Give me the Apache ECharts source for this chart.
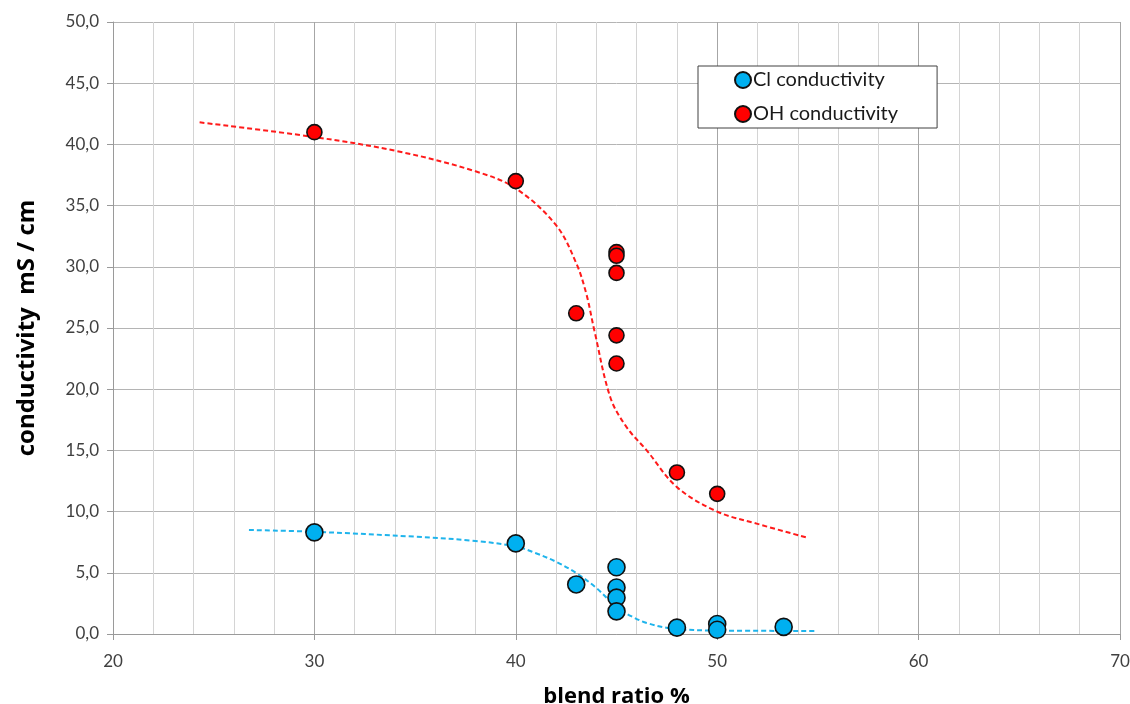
<!DOCTYPE html>
<html>
<head>
<meta charset="utf-8">
<script src="https://cdn.jsdelivr.net/npm/echarts@6/dist/echarts.min.js"></script>
<style>
html,body{margin:0;padding:0;background:#fff;}
#c{width:1130px;height:704px;}
</style>
</head>
<body>
<div id="c"></div>
<script>
// Measured data points
const clX = [30, 40, 43, 45, 45, 45, 45, 48, 50, 50, 53.3];
const clY = [8.3, 7.4, 4.05, 5.45, 3.8, 2.97, 1.85, 0.52, 0.82, 0.35, 0.58];
const ohX = [30, 40, 43, 45, 45, 45, 45, 45, 48, 50];
const ohY = [41.0, 37.0, 26.2, 31.2, 30.9, 29.5, 24.4, 22.1, 13.2, 11.45];

// Trend curves
const clTrendX = [26.75, 30, 35, 38, 40, 41, 42, 43, 44, 45, 45.8, 46.5, 47.7, 50, 54.9];
const clTrendY = [8.5, 8.35, 7.95, 7.6, 7.15, 6.6, 5.9, 4.98, 3.76, 2.2, 1.4, 0.9, 0.46, 0.28, 0.25];
const ohTrendX = [24.3, 30, 34.25, 38, 40, 42.0, 43.0, 43.5, 43.9, 44.7, 45.5, 46.5, 48, 50, 52, 54.4];
const ohTrendY = [41.8, 40.6, 39.4, 37.8, 36.4, 33.4, 30.3, 27.8, 24.8, 19.3, 16.9, 15.0, 12.0, 10.0, 9.0, 7.9];

const xTicks = [20, 30, 40, 50, 60, 70];
const yTicks = [0, 5, 10, 15, 20, 25, 30, 35, 40, 45, 50];

const FONT = 'Lato, "Open Sans", sans-serif';
const TFONT = '"Open Sans", Lato, sans-serif';
const zip = (a, b) => a.map((v, i) => [v, b[i]]);

const chart = echarts.init(document.getElementById('c'), null, {renderer: 'canvas'});
chart.setOption({
  animation: false,
  backgroundColor: '#ffffff',
  grid: {left: 113, right: 10, top: 22, bottom: 70, containLabel: false, outerBoundsMode: 'none'},
  xAxis: {
    type: 'value',
    min: xTicks[0], max: xTicks[xTicks.length - 1], interval: 10,
    name: 'blend ratio %',
    nameLocation: 'middle', nameGap: 52,
    nameTextStyle: {fontFamily: TFONT, fontSize: 22, fontWeight: 'bold', color: '#000'},
    axisLine: {show: true, lineStyle: {color: '#9a9a9a', width: 1}},
    axisTick: {show: true, length: 6, lineStyle: {color: '#9a9a9a'}},
    axisLabel: {fontFamily: FONT, fontSize: 17, color: '#404040', margin: 19},
    splitLine: {show: true, lineStyle: {color: '#a6a6a6', width: 1}},
    minorTick: {show: false, splitNumber: 5},
    minorSplitLine: {show: true, lineStyle: {color: '#d4d4d4', width: 1}}
  },
  yAxis: {
    type: 'value',
    min: yTicks[0], max: yTicks[yTicks.length - 1], interval: 5,
    name: 'conductivity  mS / cm',
    nameLocation: 'middle', nameGap: 74, nameRotate: 90,
    nameTextStyle: {fontFamily: TFONT, fontSize: 24, fontWeight: 'bold', color: '#000'},
    axisLine: {show: true, lineStyle: {color: '#9a9a9a', width: 1}},
    axisTick: {show: true, length: 6, lineStyle: {color: '#9a9a9a'}},
    axisLabel: {fontFamily: FONT, fontSize: 17, color: '#404040', margin: 14,
      formatter: v => v.toFixed(1).replace('.', ',')},
    splitLine: {show: true, lineStyle: {color: '#b4b4b4', width: 1}}
  },
  legend: {
    orient: 'vertical',
    left: 698, top: 66,
    padding: [4, 39, 4, 36],
    borderColor: '#404040', borderWidth: 1,
    backgroundColor: '#fff',
    itemWidth: 16, itemHeight: 16, itemGap: 14,
    icon: 'circle',
    textStyle: {fontFamily: FONT, fontSize: 20, color: '#1a1a1a', padding: [0, 0, 0, -3]},
    data: ['Cl conductivity', 'OH conductivity']
  },
  series: [
    {
      name: 'Cl trend', type: 'line', data: zip(clTrendX, clTrendY),
      smooth: 0.35, symbol: 'none', z: 2,
      lineStyle: {color: '#1fb4ec', width: 2, type: [5, 3]}
    },
    {
      name: 'OH trend', type: 'line', data: zip(ohTrendX, ohTrendY),
      smooth: 0.35, symbol: 'none', z: 2,
      lineStyle: {color: '#ff1a1a', width: 2, type: [5, 3]}
    },
    {
      name: 'Cl conductivity', type: 'scatter', data: zip(clX, clY),
      symbol: 'circle', symbolSize: 17, z: 3,
      itemStyle: {color: '#00b0f0', borderColor: '#111', borderWidth: 1.6, opacity: 1}
    },
    {
      name: 'OH conductivity', type: 'scatter', data: zip(ohX, ohY),
      symbol: 'circle', symbolSize: 15, z: 3,
      itemStyle: {color: '#ff0000', borderColor: '#111', borderWidth: 1.6, opacity: 1}
    }
  ]
});
</script>
</body>
</html>
